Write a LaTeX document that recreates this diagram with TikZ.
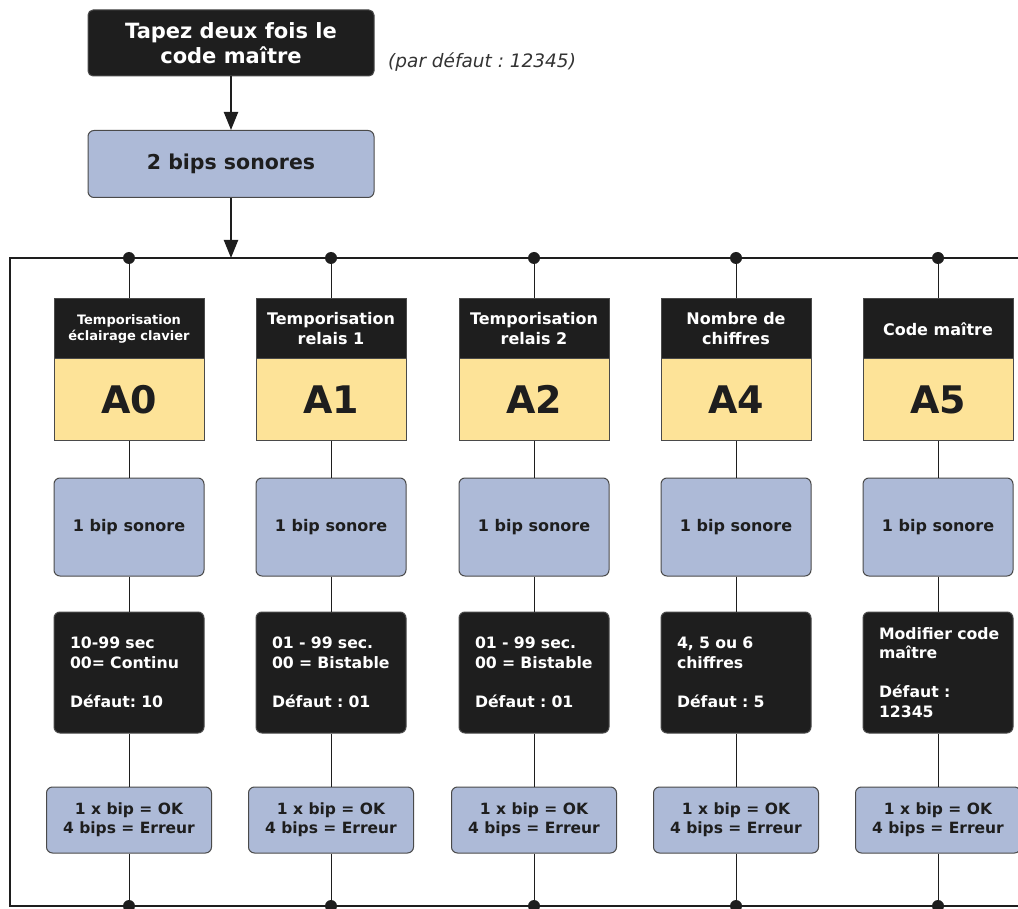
\documentclass[tikz,border=0pt]{standalone}
\usepackage{fontspec}
\setmainfont{DejaVu Sans}
\usepackage{tikz}
\usetikzlibrary{arrows.meta,positioning}
\definecolor{boxblack}{HTML}{1E1E1E}
\definecolor{codeyellow}{HTML}{FDE398}
\definecolor{bipblue}{HTML}{ADBAD7}
\definecolor{edgegray}{HTML}{4A4A4A}
\definecolor{hintgray}{HTML}{333333}
\frenchspacing

\begin{document}
\begin{tikzpicture}
	[x=1pt, y=-1pt, inner sep=0pt,
	startbox/.style	= {rectangle, rounded corners=5pt, draw=edgegray, line width=1pt, fill=boxblack, text=white, minimum width=286pt, minimum height=66pt, align=center, font=\bfseries\fontsize{21}{25}\selectfont},
	beepsbox/.style	= {rectangle, rounded corners=6pt, draw=edgegray, line width=1pt, fill=bipblue, text=boxblack, minimum width=286pt, minimum height=67pt, font=\bfseries\fontsize{20.5}{25}\selectfont},
	title/.style	= {rectangle, draw=edgegray, line width=1pt, fill=boxblack, text=white, minimum width=150pt, minimum height=60pt, align=center, font=\bfseries\fontsize{16}{20}\selectfont},
	code/.style	= {rectangle, draw=edgegray, line width=1pt, fill=codeyellow, text=boxblack, minimum width=150pt, minimum height=81pt, font=\bfseries\fontsize{38}{40}\selectfont},
	beep/.style	= {rectangle, rounded corners=6pt, draw=edgegray, line width=1pt, fill=bipblue, text=boxblack, minimum width=150pt, minimum height=98pt, font=\bfseries\fontsize{16}{19}\selectfont},
	info/.style	= {rectangle, rounded corners=6pt, draw=edgegray, line width=1pt, fill=boxblack, text=white, text width=118pt, inner xsep=16pt, minimum height=121pt, align=left, font=\bfseries\fontsize{15.7}{19.5}\selectfont},
	result/.style	= {rectangle, rounded corners=6pt, draw=edgegray, line width=1pt, fill=bipblue, text=boxblack, minimum width=165pt, minimum height=66pt, align=center, font=\bfseries\fontsize{15.5}{19}\selectfont},
	junction/.style	= {circle, fill=boxblack, minimum size=12pt},
	frame/.style	= {draw=boxblack, line width=1.3pt},
	wire/.style	= {draw=boxblack, line width=1pt},
	flow/.style	= {-{Triangle[width=14pt,length=18pt]}, draw=boxblack, line width=2.2pt}]

	\useasboundingbox (0,0) rectangle (1018,909);

	% entree
	\node at (231, 43)	[startbox]	(start)	{Tapez deux fois le\\code maître};
	\node at (388, 62)	[anchor=west, text=hintgray, font=\itshape\fontsize{18.5}{20}\selectfont]	(hint)	{(par défaut : 12345)};
	\node at (231, 164)	[beepsbox]	(beeps)	{2 bips sonores};

	% cadre
	\coordinate (entry)	at (231, 258);
	\coordinate (ftl)	at (10, 258);
	\coordinate (ftr)	at (1018, 258);
	\coordinate (fbl)	at (10, 906);
	\coordinate (fbr)	at (1018, 906);
	\draw [frame] (ftr) -- (ftl) -- (fbl) -- (fbr);

	\draw [flow] (start.south) -- (beeps.north);
	\draw [flow] (beeps.south) -- (entry);

	% points de jonction
	\node at (129, 258)	[junction]	(t0)	{};
	\node at (331, 258)	[junction]	(t1)	{};
	\node at (534, 258)	[junction]	(t2)	{};
	\node at (736, 258)	[junction]	(t4)	{};
	\node at (938, 258)	[junction]	(t5)	{};

	\node at (129, 906)	[junction]	(b0)	{};
	\node at (331, 906)	[junction]	(b1)	{};
	\node at (534, 906)	[junction]	(b2)	{};
	\node at (736, 906)	[junction]	(b4)	{};
	\node at (938, 906)	[junction]	(b5)	{};

	% titres
	\node at (129, 329)	[title, font=\bfseries\fontsize{13}{16}\selectfont]	(h0)	{Temporisation\\éclairage clavier};
	\node at (331, 329)	[title]	(h1)	{Temporisation\\relais 1};
	\node at (534, 329)	[title]	(h2)	{Temporisation\\relais 2};
	\node at (736, 329)	[title]	(h4)	{Nombre de\\chiffres};
	\node at (938, 329)	[title]	(h5)	{Code maître};

	% codes
	\node at (129, 399.5)	[code]	(c0)	{A0};
	\node at (331, 399.5)	[code]	(c1)	{A1};
	\node at (534, 399.5)	[code]	(c2)	{A2};
	\node at (736, 399.5)	[code]	(c4)	{A4};
	\node at (938, 399.5)	[code]	(c5)	{A5};

	\node at (129, 527)	[beep]	(p0)	{1 bip sonore};
	\node at (331, 527)	[beep]	(p1)	{1 bip sonore};
	\node at (534, 527)	[beep]	(p2)	{1 bip sonore};
	\node at (736, 527)	[beep]	(p4)	{1 bip sonore};
	\node at (938, 527)	[beep]	(p5)	{1 bip sonore};

	\node at (129, 672.5)	[info]	(i0)	{10-99 sec\\00= Continu\\[19.5pt]Défaut: 10};
	\node at (331, 672.5)	[info]	(i1)	{01 - 99 sec.\\00 = Bistable\\[19.5pt]Défaut : 01};
	\node at (534, 672.5)	[info]	(i2)	{01 - 99 sec.\\00 = Bistable\\[19.5pt]Défaut : 01};
	\node at (736, 672.5)	[info]	(i4)	{4, 5 ou 6\\chiffres\\[19.5pt]Défaut : 5};
	\node at (938, 672.5)	[info]	(i5)	{\mbox{Modifier code}\\maître\\[19.5pt]Défaut :\\12345};

	\node at (129, 820)	[result]	(r0)	{1 x bip = OK\\4 bips = Erreur};
	\node at (331, 820)	[result]	(r1)	{1 x bip = OK\\4 bips = Erreur};
	\node at (534, 820)	[result]	(r2)	{1 x bip = OK\\4 bips = Erreur};
	\node at (736, 820)	[result]	(r4)	{1 x bip = OK\\4 bips = Erreur};
	\node at (938, 820)	[result]	(r5)	{1 x bip = OK\\4 bips = Erreur};

	% liaisons
	\draw [wire] (t0) -- (h0.north);	\draw [wire] (c0.south) -- (p0.north);	\draw [wire] (p0.south) -- (i0.north);	\draw [wire] (i0.south) -- (r0.north);	\draw [wire] (r0.south) -- (b0);
	\draw [wire] (t1) -- (h1.north);	\draw [wire] (c1.south) -- (p1.north);	\draw [wire] (p1.south) -- (i1.north);	\draw [wire] (i1.south) -- (r1.north);	\draw [wire] (r1.south) -- (b1);
	\draw [wire] (t2) -- (h2.north);	\draw [wire] (c2.south) -- (p2.north);	\draw [wire] (p2.south) -- (i2.north);	\draw [wire] (i2.south) -- (r2.north);	\draw [wire] (r2.south) -- (b2);
	\draw [wire] (t4) -- (h4.north);	\draw [wire] (c4.south) -- (p4.north);	\draw [wire] (p4.south) -- (i4.north);	\draw [wire] (i4.south) -- (r4.north);	\draw [wire] (r4.south) -- (b4);
	\draw [wire] (t5) -- (h5.north);	\draw [wire] (c5.south) -- (p5.north);	\draw [wire] (p5.south) -- (i5.north);	\draw [wire] (i5.south) -- (r5.north);	\draw [wire] (r5.south) -- (b5);

\end{tikzpicture}
\end{document}
